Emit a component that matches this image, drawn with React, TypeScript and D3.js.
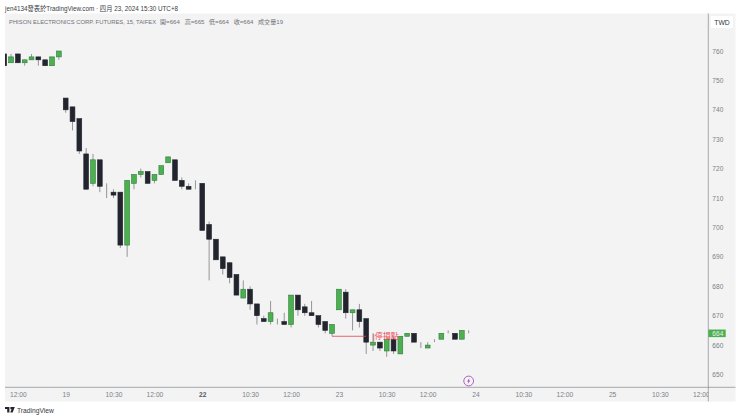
import React, { useEffect, useRef } from "react";
import * as d3 from "d3";

const opens = [759, 756, 759, 756, 757, 758, 757, 755, 758, 744, 741, 737, 725, 715, 723, 715, 712, 712, 694, 715, 718, 719, 716, 718, 722, 723, 716, 714, 713, 715, 701, 696, 690, 688, 684, 676, 679, 674, 669, 668, 669, 668, 667, 677, 673, 671, 670, 668, 664, 672, 678, 671, 672, 669, 660, 661, 658, 662, 657, 663, 664, 660, 659, 661, 662, 664, 664, 662, 664];
const closes = [755, 758, 756, 757, 758, 757, 755, 758, 760, 740, 736, 726, 713, 723, 714, 715, 711, 694, 716, 718, 719, 715, 718, 721, 724, 716, 714, 713, 713, 699, 696, 689, 686, 683, 677, 679, 674, 670, 668, 671, 669, 667, 677, 672, 671, 670, 667, 665, 667, 679, 671, 672, 668, 661, 661, 659, 662, 658, 663, 664, 661, 660, 660, 661, 664, 664, 662, 665, 664];
const highs = [759, 759, 759, 757, 759, 758, 757, 758, 760, 744, 741, 737, 727, 725, 723, 715, 713, 712, 716, 718, 720, 719, 718, 721, 724, 723, 717, 715, 716, 715, 702, 696, 690, 688, 684, 682, 680, 674, 670, 675, 669, 671, 677, 677, 674, 675, 670, 668, 667, 679, 679, 672, 674, 669, 664, 661, 662, 663, 663, 664, 664, 661, 661, 662, 664, 665, 664, 665, 665];
const lows = [755, 756, 756, 755, 757, 755, 755, 755, 757, 739, 733, 725, 713, 714, 712, 710, 710, 693, 690, 713, 717, 715, 715, 718, 722, 716, 713, 713, 713, 699, 682, 689, 684, 681, 677, 676, 672, 667, 668, 667, 667, 667, 666, 670, 670, 670, 666, 664, 663, 672, 669, 665, 666, 657, 658, 658, 656, 657, 657, 663, 661, 659, 659, 661, 662, 664, 662, 662, 664];

const priceTicks = [760, 750, 740, 730, 720, 710, 700, 690, 680, 670, 660, 650];
const timeTicks = [2, 9, 16, 22, 29, 36, 42, 49, 56, 62, 69, 76, 82, 89, 96, 102];
const timeLabels = ["12:00", "19", "10:30", "12:00", "22", "10:30", "12:00", "23", "10:30", "12:00", "24", "10:30", "12:00", "25", "10:30", "12:00"];
const legendLabels = ["開=664", "高=665", "低=664", "收=664", "成交量19"];
const legendX = [160, 184.7, 209, 233.7, 258];

const stopPrice = 663;
const stopFrom = 48;
const stopTo = 53;
const lastPrice = 664;

const UP = "#4caf50";
const UP_EDGE = "#2f7d3a";
const DOWN = "#22252e";
const WICK = "#7b7d80";
const GRID_TEXT = "#7d7f84";
const FONT = "'Liberation Sans', 'Noto Sans CJK TC', sans-serif";

const App = () => {
  const ref = useRef<SVGSVGElement>(null);

  useEffect(() => {
    const svg = d3.select(ref.current);
    svg.selectAll("*").remove();

    const width = 740;
    const height = 419;
    const panel = { left: 5, top: 13.5, right: 735.5, bottom: 401.5 };
    const axisX = 708.3;
    const axisY = 387.3;

    // bar index on x, 20 bars a day (no gaps drawn for weekends)
    const x = d3.scaleLinear().domain([0, 102]).range([4.2, 700.9]);
    const y = d3.scaleLinear().domain([650, 760]).range([374.5, 51]);

    svg.attr("width", width).attr("height", height);

    svg
      .append("rect")
      .attr("x", panel.left)
      .attr("y", panel.top)
      .attr("width", panel.right - panel.left)
      .attr("height", panel.bottom - panel.top)
      .attr("fill", "#f3f3f4");

    svg
      .append("clipPath")
      .attr("id", "plot")
      .append("rect")
      .attr("x", panel.left)
      .attr("y", panel.top)
      .attr("width", axisX - panel.left)
      .attr("height", panel.bottom - panel.top);

    // header
    svg
      .append("text")
      .text("jen4134發表於TradingView.com · 四月 23, 2024 15:30 UTC+8")
      .attr("x", 5)
      .attr("y", 10.5)
      .attr("font-size", 6.3)
      .attr("fill", "#3a3d44")
      .attr("font-family", FONT);

    svg
      .append("text")
      .text("PHISON ELECTRONICS CORP. FUTURES, 15, TAIFEX")
      .attr("x", 9)
      .attr("y", 24)
      .attr("font-size", 5.85)
      .attr("fill", "#6f7177")
      .attr("font-family", FONT);

    svg
      .append("g")
      .selectAll("text")
      .data(legendLabels)
      .enter()
      .append("text")
      .text((d) => d)
      .attr("x", (_, i) => legendX[i])
      .attr("y", 24)
      .attr("font-size", 6.1)
      .attr("fill", "#6f7177")
      .attr("font-family", FONT);

    const plot = svg.append("g").attr("clip-path", "url(#plot)");

    const candles = plot
      .append("g")
      .selectAll("g")
      .data(d3.range(opens.length))
      .enter()
      .append("g");

    // wick
    candles
      .append("line")
      .attr("x1", (i) => x(i))
      .attr("x2", (i) => x(i))
      .attr("y1", (i) => y(highs[i]))
      .attr("y2", (i) => y(lows[i]))
      .attr("stroke", WICK)
      .attr("stroke-width", 0.8);

    // body
    candles
      .append("rect")
      .attr("x", (i) => x(i) - 2.4)
      .attr("width", 4.8)
      .attr("y", (i) => y(Math.max(opens[i], closes[i])))
      .attr("height", (i) => Math.abs(y(opens[i]) - y(closes[i])))
      .attr("fill", (i) => (closes[i] >= opens[i] ? UP : DOWN))
      .attr("stroke", (i) => {
        if (closes[i] === opens[i]) return WICK;
        return closes[i] > opens[i] ? UP_EDGE : DOWN;
      })
      .attr("stroke-width", 0.6);

    // stop line
    plot
      .append("line")
      .attr("x1", x(stopFrom))
      .attr("x2", x(stopTo))
      .attr("y1", y(stopPrice))
      .attr("y2", y(stopPrice))
      .attr("stroke", "#e5424d")
      .attr("stroke-width", 0.8);

    plot
      .append("text")
      .text("|停損點")
      .attr("x", x(stopTo) + 6.5)
      .attr("y", y(stopPrice) + 2.5)
      .attr("font-size", 8)
      .attr("fill", "#ee4b58")
      .attr("font-family", FONT);

    // axis lines
    svg
      .append("line")
      .attr("x1", panel.left)
      .attr("x2", panel.right)
      .attr("y1", axisY)
      .attr("y2", axisY)
      .attr("stroke", "#85878a")
      .attr("stroke-width", 0.7);

    svg
      .append("line")
      .attr("x1", axisX)
      .attr("x2", axisX)
      .attr("y1", panel.top)
      .attr("y2", panel.bottom)
      .attr("stroke", "#85878a")
      .attr("stroke-width", 0.7);

    // price axis
    const yAxis = svg
      .append("g")
      .attr("transform", `translate(${axisX}, 0)`)
      .call(d3.axisRight(y).tickValues(priceTicks).tickSize(0).tickPadding(4));
    yAxis.select(".domain").remove();
    yAxis
      .selectAll("text")
      .attr("font-size", 6.6)
      .attr("fill", GRID_TEXT)
      .attr("font-family", FONT);

    // time axis, the last label is cut by the price axis
    const xAxis = plot
      .append("g")
      .attr("transform", `translate(0, ${axisY})`)
      .call(
        d3
          .axisBottom(x)
          .tickValues(timeTicks)
          .tickFormat((_, i) => timeLabels[i])
          .tickSize(0)
          .tickPadding(5)
      );
    xAxis.select(".domain").remove();
    xAxis
      .selectAll("text")
      .attr("font-size", 6.7)
      .attr("fill", (_, i) => (timeLabels[i] === "22" ? "#55585e" : GRID_TEXT))
      .attr("font-weight", (_, i) => (timeLabels[i] === "22" ? 700 : 400))
      .attr("font-family", FONT);

    // last price tag
    svg
      .append("rect")
      .attr("x", axisX)
      .attr("y", y(lastPrice) - 3.8)
      .attr("width", 17.4)
      .attr("height", 7.6)
      .attr("fill", UP);
    svg
      .append("text")
      .text(lastPrice)
      .attr("x", axisX + 4)
      .attr("y", y(lastPrice) + 2.4)
      .attr("font-size", 6.6)
      .attr("fill", "#e6f3e7")
      .attr("font-family", FONT);

    // currency box
    svg
      .append("rect")
      .attr("x", 711)
      .attr("y", 16)
      .attr("width", 22)
      .attr("height", 12)
      .attr("fill", "#ffffff");
    svg
      .append("text")
      .text("TWD")
      .attr("x", 722)
      .attr("y", 24.5)
      .attr("text-anchor", "middle")
      .attr("font-size", 6.8)
      .attr("fill", "#33363c")
      .attr("font-family", FONT);

    // purple lightning marker
    const marker = svg
      .append("g")
      .attr("transform", `translate(${x(68)}, 381)`);
    marker
      .append("circle")
      .attr("r", 4.9)
      .attr("fill", "#f3f3f4")
      .attr("stroke", "#9c3fb5")
      .attr("stroke-width", 0.8);
    marker
      .append("path")
      .attr("d", "M1,-3 L-1.6,0.5 L-0.1,0.5 L-1,3 L1.6,-0.5 L0.1,-0.5 Z")
      .attr("fill", "#9c3fb5");

    // TradingView logo
    const logo = svg.append("g").attr("transform", "translate(5, 407)");
    logo
      .append("path")
      .attr("d", "M0,0 H4.4 V5.4 H2.2 V2 H0 Z M5.4,0 H9.8 L7.6,5.4 H5.2 L6.6,2.2 H5.4 Z")
      .attr("fill", "#22252e");
    svg
      .append("text")
      .text("TradingView")
      .attr("x", 17)
      .attr("y", 412.5)
      .attr("font-size", 6.7)
      .attr("fill", "#33363c")
      .attr("font-family", FONT);
  }, []);

  return <svg ref={ref} style={{ position: "absolute", left: 0, top: 0 }} />;
};

export default App;
